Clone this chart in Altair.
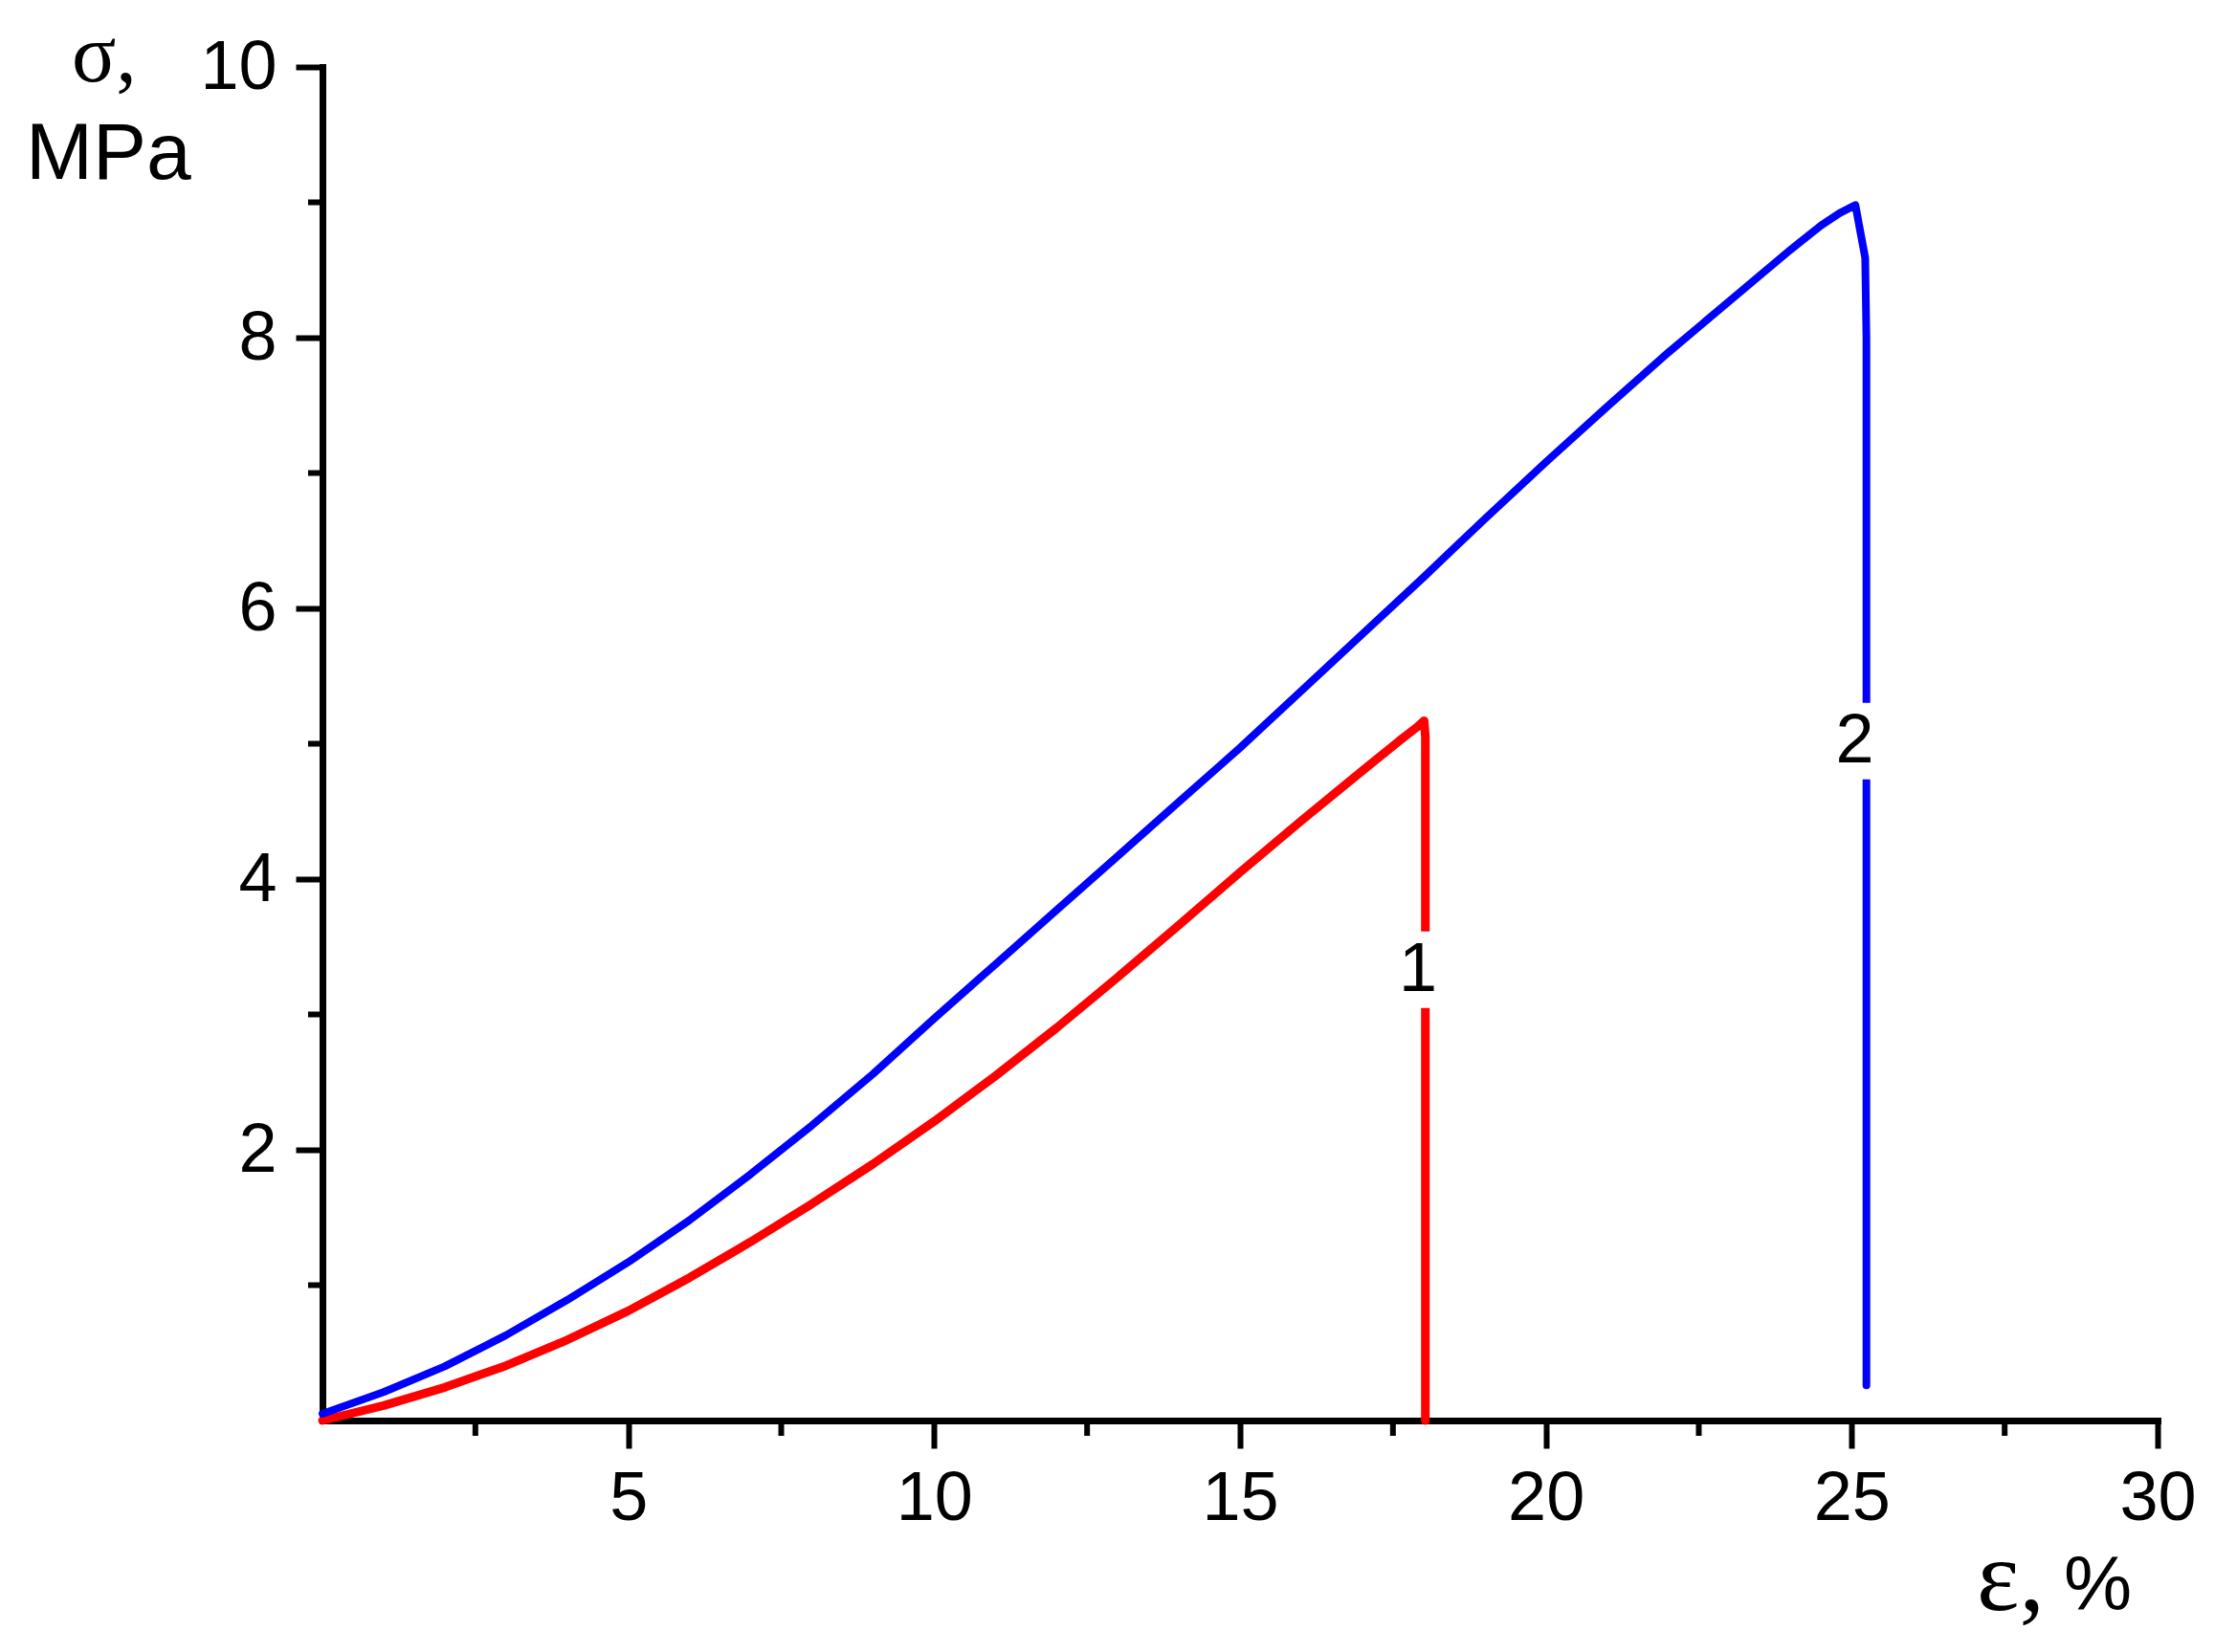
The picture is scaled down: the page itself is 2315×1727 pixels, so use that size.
import altair as alt
import pandas as pd

# Curve 1 (red)
red_x = [0, 1, 2, 3, 4, 5, 6, 7, 8, 9, 10, 11, 12, 13, 14, 15, 16, 17, 17.6, 17.9, 18.01, 18.03, 18.03]
red_y = [0.0, 0.11, 0.245, 0.405, 0.595, 0.81, 1.055, 1.32, 1.60, 1.895, 2.21, 2.545, 2.90, 3.275, 3.66, 4.05, 4.43, 4.80, 5.02, 5.125, 5.17, 5.05, 0.0]

# Curve 2 (blue)
blue_x = [0, 1, 2, 3, 4, 5, 6, 7, 8, 9, 10, 11, 12, 13, 14, 15, 16, 17, 18, 19, 20, 21, 22, 23, 24, 24.5, 24.8, 25.06, 25.15, 25.22, 25.24, 25.24]
blue_y = [0.05, 0.21, 0.40, 0.63, 0.89, 1.17, 1.48, 1.82, 2.18, 2.56, 2.97, 3.37, 3.77, 4.17, 4.57, 4.97, 5.39, 5.81, 6.23, 6.66, 7.08, 7.49, 7.89, 8.27, 8.65, 8.83, 8.92, 8.98, 8.76, 8.59, 8.0, 0.26]

# Curve labels
label_text = ["1", "2"]
label_x = [17.91, 25.05]
label_y = [3.33, 5.02]

# Axis ticks
x_major = [5, 10, 15, 20, 25, 30]
x_minor = [2.5, 7.5, 12.5, 17.5, 22.5, 27.5]
y_major = [2, 4, 6, 8, 10]
y_minor = [1, 3, 5, 7, 9]

W, H = 1918, 1415

red_df = pd.DataFrame({"x": red_x, "y": red_y, "i": range(len(red_x))})
blue_df = pd.DataFrame({"x": blue_x, "y": blue_y, "i": range(len(blue_x))})
lab_df = pd.DataFrame({"t": label_text, "x": label_x, "y": label_y})

xs = alt.Scale(domain=[0, 30], nice=False, zero=False)
ys = alt.Scale(domain=[0, 10], nice=False, zero=False)

xaxis = alt.Axis(values=x_major, format="d", title=None, grid=False, tickSize=29, labelPadding=17,
                 labelFlush=False)
yaxis = alt.Axis(values=y_major, format="d", title=None, grid=False, tickSize=28, labelPadding=20)

red = alt.Chart(red_df).mark_line(color="#FF0000", strokeWidth=9, strokeJoin="round", strokeCap="round").encode(
    x=alt.X("x:Q", scale=xs, axis=xaxis),
    y=alt.Y("y:Q", scale=ys, axis=yaxis),
    order=alt.Order("i:Q"),
)
blue = alt.Chart(blue_df).mark_line(color="#0000FF", strokeWidth=8, strokeJoin="round", strokeCap="round").encode(
    x=alt.X("x:Q", scale=xs),
    y=alt.Y("y:Q", scale=ys),
    order=alt.Order("i:Q"),
)

masks = alt.Chart(lab_df).mark_point(shape="square", filled=True, color="white", opacity=1, size=80 * 80).encode(
    x=alt.X("x:Q", scale=xs), y=alt.Y("y:Q", scale=ys)
)
labels = alt.Chart(lab_df).mark_text(font="Liberation Sans", fontSize=72, color="black", align="center",
                                     baseline="middle").encode(
    x=alt.X("x:Q", scale=xs), y=alt.Y("y:Q", scale=ys), text="t:N"
)

xminor = alt.Chart(pd.DataFrame({"v": x_minor})).mark_rule(color="black", strokeWidth=6, strokeCap="butt").encode(
    x=alt.X("v:Q", scale=xs), y=alt.value(H), y2=alt.value(H + 16)
)
yminor = alt.Chart(pd.DataFrame({"v": y_minor})).mark_rule(color="black", strokeWidth=6, strokeCap="butt").encode(
    y=alt.Y("v:Q", scale=ys), x=alt.value(0), x2=alt.value(-15)
)

def txt(s, x, y, font, size):
    return alt.Chart(pd.DataFrame({"t": [s]})).mark_text(
        font=font, fontSize=size, color="black", align="left", baseline="alphabetic"
    ).encode(text="t:N", x=alt.value(x), y=alt.value(y))

titles = [
    txt("σ,", -262, 15, "Liberation Serif", 86),
    txt("MPa", -310, 117, "Liberation Sans", 84),
    txt("ε,", 1729, 1613, "Liberation Serif", 106),
    txt("%", 1820, 1613, "Liberation Sans", 80),
]

chart = alt.layer(red, blue, masks, labels, xminor, yminor, *titles).properties(
    width=W, height=H,
    autosize=alt.AutoSizeParams(type="none"),
    padding={"left": 329, "top": 62, "right": 52, "bottom": 220},
).configure_view(stroke=None).configure_axis(
    domainColor="black", domainWidth=7, domainCap="square",
    tickColor="black", tickWidth=6,
    labelFont="Liberation Sans", labelFontSize=72, labelColor="black",
)

chart.save("out.html", embed_options={"renderer": "svg", "actions": False})
